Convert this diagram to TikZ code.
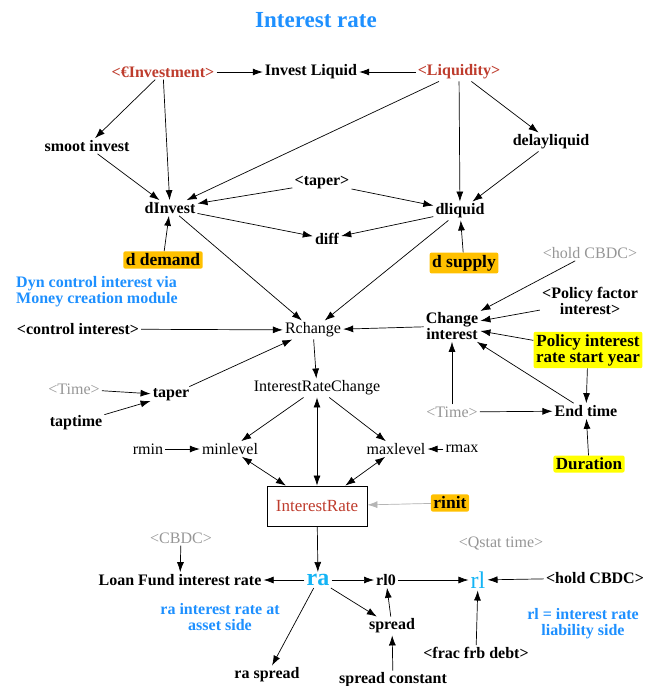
\documentclass[tikz,border=0pt]{standalone}
\usepackage{fontspec}
\setmainfont{Liberation Serif}
\usepackage{xcolor}
\usetikzlibrary{arrows.meta,positioning}

\definecolor{titleblue}{RGB}{30,144,255}
\definecolor{shadred}{RGB}{190,60,45}
\definecolor{ghostgray}{RGB}{150,150,150}
\definecolor{boxorange}{RGB}{255,192,0}
\definecolor{boxyellow}{RGB}{255,255,0}
\definecolor{racyan}{RGB}{20,180,245}

\begin{document}
\begin{tikzpicture}[x=1pt, y=-1pt, auto,
    var/.style={font=\bfseries\fontsize{16}{16}\selectfont, inner sep=2pt},
    plainvar/.style={font=\fontsize{16}{16}\selectfont, inner sep=2pt},
    shadow/.style={var, text=shadred},
    ghost/.style={plainvar, text=ghostgray},
    hiorange/.style={var, font=\bfseries\fontsize{17.5}{17.5}\selectfont, fill=boxorange, rounded corners=2pt, inner sep=2.5pt},
    hiyellow/.style={var, font=\bfseries\fontsize{17}{16}\selectfont, fill=boxyellow, rounded corners=2pt, inner sep=2.5pt, align=center},
    note/.style={var, text=titleblue, align=center},
    link/.style={-{Latex[length=10pt,width=7pt]}, line width=0.7pt},
    both/.style={{Latex[length=10pt,width=7pt]}-{Latex[length=10pt,width=7pt]}, line width=0.7pt}]
    \useasboundingbox (0,0) rectangle (645,686);

    % Title
    \node [font=\bfseries\fontsize{23}{23}\selectfont, text=titleblue] (title) at (316,20) {Interest rate};

    % Demand and supply side
    \node [shadow] (inv) at (163,72) {<€Investment>};
    \node [var] (invliq) at (311,72) {Invest Liquid};
    \node [shadow] (liq) at (459,72) {<Liquidity>};
    \node [var] (smoot) at (87,146) {smoot invest};
    \node [var] (delay) at (551,142) {delayliquid};
    \node [var] (tapers) at (322,183) {<taper>};
    \node [var] (dinv) at (170,208) {dInvest};
    \node [var] (dliq) at (460,211) {dliquid};
    \node [var] (diff) at (327,239) {diff};
    \node [hiorange] (ddem) at (163,260) {d demand};
    \node [hiorange] (dsup) at (464,263) {d supply};

    % Rate change
    \node [ghost] (holdg) at (590,253) {<hold CBDC>};
    \node [note, align=left, anchor=west] (dyn) at (14,292) {Dyn control interest via\\Money creation module};
    \node [var, align=center] (polfac) at (590,301) {<Policy factor\\interest>};
    \node [var, align=center] (chint) at (452,326) {Change\\interest};
    \node [var] (ctrl) at (78,329) {<control interest>};
    \node [plainvar] (rch) at (313,330) {Rchange};
    \node [hiyellow] (polstart) at (588,350) {Policy interest\\rate start year};
    \node [ghost] (timel) at (74,389) {<Time>};
    \node [var] (taper) at (171,395) {taper};
    \node [plainvar] (irc) at (317,388) {InterestRateChange};
    \node [var] (taptime) at (76,423) {taptime};
    \node [ghost] (timer) at (452,412) {<Time>};
    \node [var] (endt) at (586,411) {End time};
    \node [plainvar] (rmin) at (148,449) {rmin};
    \node [plainvar] (minl) at (230,449) {minlevel};
    \node [plainvar] (maxl) at (396,449) {maxlevel};
    \node [plainvar] (rmax) at (462,449) {rmax};
    \node [hiyellow] (dur) at (589,464) {Duration};

    % Stock
    \node [draw, line width=0.8pt, minimum width=100pt, minimum height=40pt,
           font=\fontsize{17}{17}\selectfont, text=shadred] (ir) at (317,506) {InterestRate};
    \node [hiorange] (rinit) at (450,503) {rinit};

    % Asset and liability side
    \node [ghost] (cbdc) at (181,538) {<CBDC>};
    \node [ghost] (qstat) at (501,543) {<Qstat time>};
    \node [var] (loan) at (180,580) {Loan Fund interest rate};
    \node [font=\bfseries\fontsize{24}{24}\selectfont, text=racyan, inner sep=2pt] (ra) at (318,580) {ra};
    \node [var] (rlzero) at (386,580) {rl0};
    \node [font=\fontsize{24}{24}\selectfont, text=racyan, inner sep=2pt] (rl) at (478,580) {rl};
    \node [var] (holdb) at (595,578) {<hold CBDC>};
    \node [note] (ranote) at (220,617) {ra interest rate at\\asset side};
    \node [var] (spread) at (392,626) {spread};
    \node [note] (rlnote) at (583,624) {rl = interest rate\\liability side};
    \node [var] (frac) at (476,653) {<frac frb debt>};
    \node [var] (raspread) at (267,675) {ra spread};
    \node [var] (spreadc) at (393,680) {spread constant};

    % Links top
    \draw [link] (inv) -- (invliq);
    \draw [link] (liq) -- (invliq);
    \draw [link] (inv) -- (smoot);
    \draw [link] (inv) -- (dinv);
    \draw [link] (liq) -- (dinv);
    \draw [link] (liq) -- (dliq);
    \draw [link] (liq) -- (delay);
    \draw [link] (smoot) -- (dinv);
    \draw [link] (delay) -- (dliq);
    \draw [link] (tapers) -- (dinv);
    \draw [link] (tapers) -- (dliq);
    \draw [link] (dinv) -- (diff);
    \draw [link] (dliq) -- (diff);
    \draw [link] (ddem) -- (dinv);
    \draw [link] (dsup) -- (dliq);

    % Links middle
    \draw [link] (dinv) -- (rch);
    \draw [link] (dliq) -- (rch);
    \draw [link] (holdg) -- (chint);
    \draw [link] (polfac) -- (chint);
    \draw [link] (polstart) -- (chint);
    \draw [link] (polstart) -- (endt);
    \draw [link] (chint) -- (rch);
    \draw [link] (ctrl) -- (rch);
    \draw [link] (taper) -- (rch);
    \draw [link] (timel) -- (taper);
    \draw [link] (taptime) -- (taper);
    \draw [link] (rch) -- (irc);
    \draw [link] (timer) -- (chint);
    \draw [link] (timer) -- (endt);
    \draw [link] (endt) -- (chint);
    \draw [link] (dur) -- (endt);
    \draw [link] (irc) -- (minl);
    \draw [link] (irc) -- (maxl);
    \draw [link] (rmin) -- (minl);
    \draw [link] (rmax) -- (maxl);
    \draw [both] (minl) -- (ir);
    \draw [both] (maxl) -- (ir);
    \draw [both] (irc) -- (ir);
    \draw [link, draw=ghostgray!70, fill=ghostgray!70] (rinit) -- (ir);

    % Links bottom
    \draw [link] (ir) -- (ra);
    \draw [link] (cbdc) -- (loan);
    \draw [link] (ra) -- (loan);
    \draw [link] (ra) -- (rlzero);
    \draw [link] (rlzero) -- (rl);
    \draw [link] (ra) -- (spread);
    \draw [link] (spread) -- (rlzero);
    \draw [link] (spreadc) -- (spread);
    \draw [link] (ra) -- (raspread);
    \draw [link] (holdb) -- (rl);
    \draw [link] (frac) -- (rl);

\end{tikzpicture}
\end{document}
